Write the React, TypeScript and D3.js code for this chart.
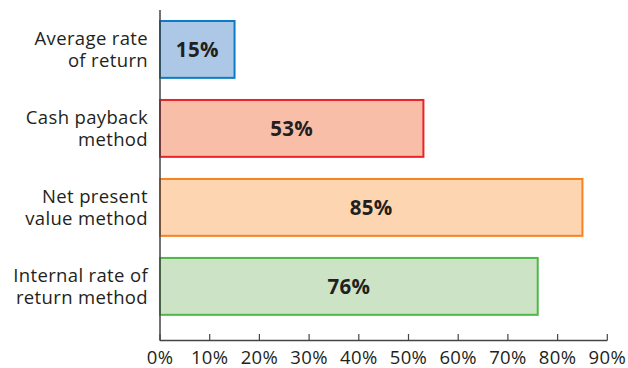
import React from "react";
import * as d3 from "d3";

const categories: string[][] = [
  ["Average rate", "of return"],
  ["Cash payback", "method"],
  ["Net present", "value method"],
  ["Internal rate of", "return method"],
];
const values: number[] = [15, 53, 85, 76];
const fills: string[] = ["#adc8e7", "#f9bea8", "#fdd5b1", "#cce4c5"];
const strokes: string[] = ["#0a7bc4", "#ec2229", "#f6831f", "#4db848"];
const ticks: number[] = [0, 10, 20, 30, 40, 50, 60, 70, 80, 90];

const W = 628;
const H = 368;
const x0 = 160;
const yTop = 10;
const yAxis = 340.5;

export default function App() {
  const x = d3.scaleLinear().domain([0, 90]).range([x0, 607.3]);
  const y = d3
    .scaleBand<number>()
    .domain(d3.range(categories.length))
    .range([10, 325.8])
    .paddingInner(0.28)
    .paddingOuter(0.139);
  const font = "'Open Sans', 'DejaVu Sans', sans-serif";
  const textColor = "#231f20";
  return (
    <svg
      width={W}
      height={H}
      style={{ position: "absolute", left: 0, top: 0, background: "#fff" }}
      fontFamily={font}
    >
      {values.map((v, i) => {
        const by = y(i)!;
        const bh = y.bandwidth();
        return (
          <g key={i}>
            <rect
              x={x(0)}
              y={by}
              width={x(v) - x(0)}
              height={bh}
              fill={fills[i]}
              stroke={strokes[i]}
              strokeWidth={2}
            />
            <text
              x={(x(0) + x(v)) / 2}
              y={by + bh / 2}
              dy="0.36em"
              textAnchor="middle"
              fontSize={20.5}
              fontWeight="bold"
              letterSpacing={0.3}
              fill={textColor}
            >
              {v}%
            </text>
            {categories[i].map((line, j) => (
              <text
                key={j}
                x={148}
                y={by + bh / 2 + (j - 0.5) * 22}
                dy="0.36em"
                textAnchor="end"
                fontSize={18.5}
                letterSpacing={0.35}
                fill={textColor}
              >
                {line}
              </text>
            ))}
          </g>
        );
      })}
      <line x1={x0} x2={x0} y1={yTop} y2={yAxis} stroke="#444" strokeWidth={1.5} />
      <line x1={x0} x2={x(90)} y1={yAxis} y2={yAxis} stroke="#444" strokeWidth={1.5} />
      {ticks.map((t) => (
        <g key={t}>
          <line x1={x(t)} x2={x(t)} y1={yAxis - 6.5} y2={yAxis} stroke="#444" strokeWidth={1.2} />
          <text x={x(t)} y={363.5} textAnchor="middle" fontSize={18.5} letterSpacing={0.35} fill={textColor}>
            {t}%
          </text>
        </g>
      ))}
    </svg>
  );
}
